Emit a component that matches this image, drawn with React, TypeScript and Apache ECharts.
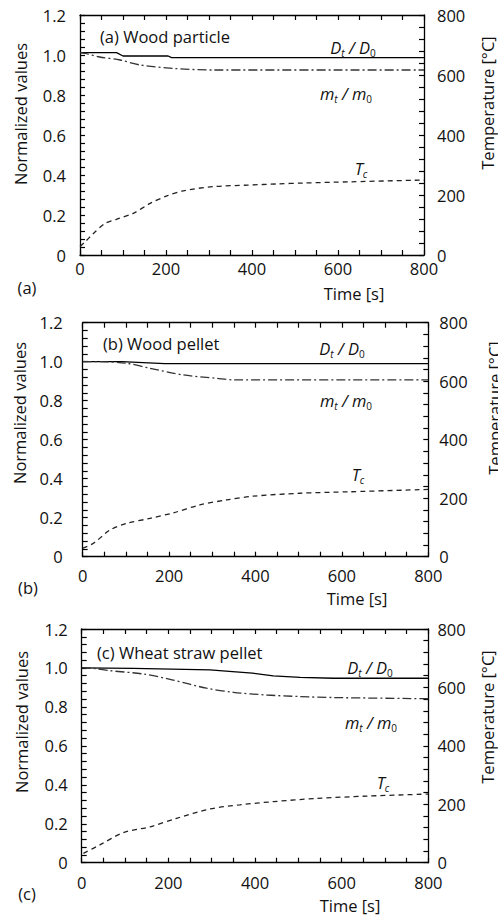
import React, { useEffect, useRef } from "react";
import * as echarts from "echarts";

const FONT = "'Open Sans', 'Noto Sans', sans-serif";

// Shared axis ticks
const timeTicks = [0, 200, 400, 600, 800];
const normTicks = [0, 0.2, 0.4, 0.6, 0.8, 1.0, 1.2];
const tempTicks = [0, 200, 400, 600, 800];

// Panel (a) Wood particle
const aDiamT = [0, 85, 100, 205, 213, 800];
const aDiam = [1.012, 1.012, 0.995, 0.995, 0.987, 0.987];
const aMassT = [0, 12, 46, 93, 140, 217, 310, 800];
const aMass = [1.012, 1.008, 0.99, 0.975, 0.95, 0.933, 0.925, 0.925];
const aTempT = [0, 12, 30, 58, 85, 124, 163, 202, 240, 310, 390, 460, 520, 630, 800];
const aTemp = [28, 44, 70, 105, 119, 139, 172, 197, 214, 228, 233, 237, 240, 244, 250];

// Panel (b) Wood pellet
const bDiamT = [0, 90, 190, 800];
const bDiam = [1.0, 1.0, 0.99, 0.99];
const bMassT = [0, 40, 102, 156, 233, 310, 349, 800];
const bMass = [1.0, 1.0, 0.992, 0.966, 0.932, 0.915, 0.907, 0.907];
const bTempT = [0, 25, 63, 102, 156, 210, 271, 333, 395, 503, 619, 800];
const bTemp = [29, 46, 91, 114, 131, 150, 177, 194, 207, 217, 222, 230];

// Panel (c) Wheat straw pellet
const cDiamT = [0, 119, 296, 348, 394, 442, 504, 581, 800];
const cDiam = [1.0, 0.998, 0.99, 0.981, 0.973, 0.959, 0.952, 0.947, 0.947];
const cMassT = [0, 30, 65, 142, 211, 288, 350, 427, 504, 581, 800];
const cMass = [1.0, 0.997, 0.986, 0.969, 0.938, 0.896, 0.875, 0.861, 0.853, 0.848, 0.842];
const cTempT = [4, 42, 96, 158, 219, 296, 365, 442, 542, 658, 800];
const cTemp = [32, 61, 103, 123, 152, 184, 198, 209, 220, 228, 235];

const titles = ["(a) Wood particle", "(b) Wood pellet", "(c) Wheat straw pellet"];
const tags = ["(a)", "(b)", "(c)"];
const xName = "Time [s]";
const yLeftName = "Normalized values";
const yRightName = "Temperature [°C]";

const zip = (xs: number[], ys: number[]) => xs.map((x, k) => [x, ys[k]]);

const panelData = [
  { diam: zip(aDiamT, aDiam), mass: zip(aMassT, aMass), temp: zip(aTempT, aTemp) },
  { diam: zip(bDiamT, bDiam), mass: zip(bMassT, bMass), temp: zip(bTempT, bTemp) },
  { diam: zip(cDiamT, cDiam), mass: zip(cMassT, cMass), temp: zip(cTempT, cTemp) },
];

// layout (positions only)
const layout = [
  {
    grid: { left: 80, top: 15, width: 344, height: 240 },
    lm: 14, rm: 13, bm: 5,
    title: [100, 36], d: [353, 47], m: [346, 93], t: [361, 168],
    yl: [20, 114], yr: [487, 103], xn: [354, 293], tag: [27, 287],
  },
  {
    grid: { left: 82.7, top: 322.7, width: 345.6, height: 234 },
    lm: 20, rm: 11, bm: 10,
    title: [103, 343], d: [342, 348], m: [346, 400], t: [358, 474],
    yl: [19, 413], yr: [494, 408], xn: [357, 598], tag: [28, 587],
  },
  {
    grid: { left: 81.7, top: 629, width: 346.7, height: 233.7 },
    lm: 14, rm: 9, bm: 11,
    title: [97, 652], d: [370, 667], m: [371, 722], t: [383, 782],
    yl: [21, 722], yr: [487, 717], xn: [350, 905], tag: [27, 893],
  },
];

const FS = 16.5;
const TXT = "#111";

const richStyles = {
  i: { fontFamily: FONT, fontSize: FS, fontStyle: "italic", fill: TXT, lineHeight: 21 },
  n: { fontFamily: FONT, fontSize: FS, fill: TXT, lineHeight: 21 },
  si: { fontFamily: FONT, fontSize: 10, fontStyle: "italic", fill: TXT, lineHeight: 10, verticalAlign: "bottom" },
  sn: { fontFamily: FONT, fontSize: 10, fill: TXT, lineHeight: 10, verticalAlign: "bottom" },
};

function buildOption() {
  const grids: any[] = [];
  const xAxes: any[] = [];
  const yAxes: any[] = [];
  const series: any[] = [];
  const graphics: any[] = [];

  const axisLine = { show: true, onZero: false, lineStyle: { color: "#000", width: 1.3 } };
  const tick = { show: true, inside: true, length: 5, lineStyle: { color: "#000", width: 1.2 } };
  const minor = (n: number) => ({ show: true, splitNumber: n, length: 5, lineStyle: { color: "#000", width: 1.2 } });
  const labelBase = { color: TXT, fontFamily: FONT, fontSize: FS };

  layout.forEach((L, i) => {
    grids.push({ ...L.grid, containLabel: false });
    xAxes.push({
      type: "value", gridIndex: i, position: "bottom",
      min: timeTicks[0], max: timeTicks[timeTicks.length - 1], interval: timeTicks[1] - timeTicks[0],
      axisLine, axisTick: tick, minorTick: minor(4),
      splitLine: { show: false }, minorSplitLine: { show: false },
      axisLabel: { ...labelBase, margin: L.bm },
    });
    xAxes.push({
      type: "value", gridIndex: i, position: "top",
      min: timeTicks[0], max: timeTicks[timeTicks.length - 1], interval: timeTicks[1] - timeTicks[0],
      axisLine, axisTick: tick, minorTick: minor(4),
      splitLine: { show: false },
      axisLabel: { show: false },
    });
    yAxes.push({
      type: "value", gridIndex: i, position: "left",
      min: normTicks[0], max: normTicks[normTicks.length - 1], interval: 0.2,
      axisLine, axisTick: tick, minorTick: minor(5),
      splitLine: { show: false },
      axisLabel: { ...labelBase, margin: L.lm, formatter: (v: number) => (v === 0 ? "0" : v.toFixed(1)) },
    });
    yAxes.push({
      type: "value", gridIndex: i, position: "right",
      min: tempTicks[0], max: tempTicks[tempTicks.length - 1], interval: 200,
      axisLine, axisTick: tick, minorTick: minor(5),
      splitLine: { show: false },
      axisLabel: { ...labelBase, margin: L.rm },
    });

    const d = panelData[i];
    series.push({
      type: "line", xAxisIndex: 2 * i, yAxisIndex: 2 * i, data: d.diam,
      showSymbol: false, symbol: "none", smooth: false,
      lineStyle: { color: "#000", width: 1.3, type: "solid" },
    });
    series.push({
      type: "line", xAxisIndex: 2 * i, yAxisIndex: 2 * i, data: d.mass,
      showSymbol: false, symbol: "none", smooth: 0.3,
      lineStyle: { color: "#333", width: 1.3, type: [9, 3, 2, 3] },
    });
    series.push({
      type: "line", xAxisIndex: 2 * i, yAxisIndex: 2 * i + 1, data: d.temp,
      showSymbol: false, symbol: "none", smooth: 0.3,
      lineStyle: { color: "#222", width: 1.3, type: [5, 4] },
    });

    const plain = (text: string, x: number, y: number, align: string, rot = 0) => ({
      type: "text", x, y, rotation: rot,
      style: { text, fontFamily: FONT, fontSize: FS, fill: TXT, textAlign: align, textVerticalAlign: "middle" },
    });
    const rich = (text: string, x: number, y: number) => ({
      type: "text", x, y,
      style: { text, rich: richStyles, textAlign: "center", textVerticalAlign: "middle" },
    });

    graphics.push(plain(titles[i], L.title[0], L.title[1], "left"));
    graphics.push(rich("{i|D}{si|t}{i| / D}{sn|0}", L.d[0], L.d[1]));
    graphics.push(rich("{i|m}{si|t}{i| / m}{sn|0}", L.m[0], L.m[1]));
    graphics.push(rich("{i|T}{si|c}", L.t[0], L.t[1]));
    graphics.push(plain(yLeftName, L.yl[0], L.yl[1], "center", Math.PI / 2));
    graphics.push(plain(yRightName, L.yr[0], L.yr[1], "center", Math.PI / 2));
    graphics.push(plain(xName, L.xn[0], L.xn[1], "center"));
    graphics.push(plain(tags[i], L.tag[0], L.tag[1], "center"));
  });

  return {
    animation: false,
    backgroundColor: "#fff",
    grid: grids,
    xAxis: xAxes,
    yAxis: yAxes,
    series,
    graphic: graphics,
  };
}

export default function App() {
  const ref = useRef<HTMLDivElement>(null);
  useEffect(() => {
    if (!ref.current) return;
    const chart = echarts.init(ref.current, undefined, { renderer: "svg" });
    chart.setOption(buildOption() as any);
    return () => chart.dispose();
  }, []);
  return (
    <div
      ref={ref}
      style={{ position: "fixed", left: 0, top: 0, width: 498, height: 915, background: "#fff" }}
    />
  );
}
